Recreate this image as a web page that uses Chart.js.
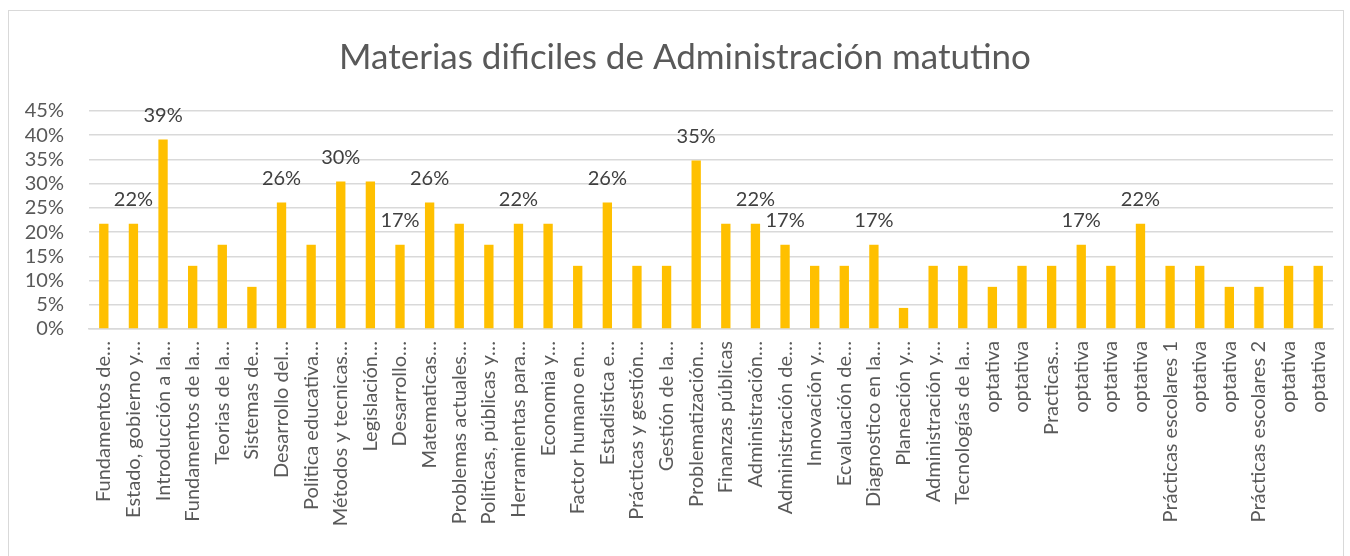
<!DOCTYPE html>
<html>
<head>
<meta charset="utf-8">
<script src="https://cdn.jsdelivr.net/npm/chart.js@4"></script>
<style>
  body { margin: 0; background: #fff; }
  #box { position: absolute; left: 8px; top: 10px; width: 1334px; height: 560px; border: 1px solid #d9d9d9; }
</style>
</head>
<body>
<div id="box"><canvas id="chart" width="1334" height="560"></canvas></div>
<script>
// materias (etiquetas tal como aparecen en el eje)
const materias = [
  "Fundamentos de…", "Estado, gobierno y…", "Introducción a la…", "Fundamentos de la…",
  "Teorias de la…", "Sistemas de…", "Desarrollo del…", "Politica educativa…",
  "Métodos y tecnicas…", "Legislación…", "Desarrollo…", "Matematicas…",
  "Problemas actuales…", "Politicas, públicas y…", "Herramientas para…", "Economia y…",
  "Factor humano en…", "Estadistica e…", "Prácticas y gestión…", "Gestión de la…",
  "Problematización…", "Finanzas públicas", "Administración…", "Administración de…",
  "Innovación y…", "Ecvaluación de…", "Diagnostico en la…", "Planeación y…",
  "Administración y…", "Tecnologías de la…", "optativa", "optativa",
  "Practicas…", "optativa", "optativa", "optativa",
  "Prácticas escolares 1", "optativa", "optativa", "Prácticas escolares 2",
  "optativa", "optativa"
];

// porcentaje de alumnos
const porcentajes = [
  21.74, 21.74, 39.13, 13.04, 17.39, 8.70, 26.09, 17.39,
  30.43, 30.43, 17.39, 26.09, 21.74, 17.39, 21.74, 21.74,
  13.04, 26.09, 13.04, 13.04, 34.78, 21.74, 21.74, 17.39,
  13.04, 13.04, 17.39, 4.35, 13.04, 13.04, 8.70, 13.04,
  13.04, 17.39, 13.04, 21.74, 13.04, 13.04, 8.70, 8.70,
  13.04, 13.04
];

// barras que llevan etiqueta de dato
const conEtiqueta = [2, 3, 7, 9, 11, 12, 15, 18, 21, 23, 24, 27, 34, 36];

const yTicks = [0, 5, 10, 15, 20, 25, 30, 35, 40, 45];

const titulo = "Materias dificiles de Administración matutino";

const fuente = "Lato, 'Open Sans', sans-serif";
const gris = "#595959";

const etiquetas = {
  id: "etiquetas",
  afterDatasetsDraw(chart) {
    const ctx = chart.ctx;
    const meta = chart.getDatasetMeta(0);
    ctx.save();
    ctx.font = "20px " + fuente;
    ctx.fillStyle = "#404040";
    ctx.textAlign = "center";
    ctx.textBaseline = "middle";
    conEtiqueta.forEach(n => {
      const bar = meta.data[n - 1];
      ctx.fillText(Math.round(porcentajes[n - 1]) + "%", bar.x, bar.y - 24);
    });
    // titulo, centrado como en Excel (un poco a la derecha)
    ctx.font = "35px " + fuente;
    ctx.fillStyle = gris;
    ctx.fillText(titulo, 676, 47);
    ctx.restore();
  }
};

new Chart("chart", {
  type: "bar",
  data: {
    labels: materias,
    datasets: [{
      data: porcentajes,
      backgroundColor: "#FFC000",
      barPercentage: 0.63,
      categoryPercentage: 0.5
    }]
  },
  options: {
    responsive: false,
    animation: false,
    layout: { padding: { left: 0, right: 10, top: 100, bottom: 0 } },
    plugins: {
      legend: { display: false },
      tooltip: { enabled: false },
      title: { display: false }
    },
    scales: {
      x: {
        grid: { display: false },
        border: { color: "#d9d9d9", width: 1.5 },
        ticks: {
          color: gris,
          font: { family: fuente, size: 20 },
          minRotation: 90,
          maxRotation: 90,
          autoSkip: false,
          padding: 4
        },
        afterFit(scale) {
          scale.height = 560 - 318;
          scale.paddingLeft = 0;
          scale.paddingRight = 0;
        }
      },
      y: {
        min: 0,
        max: 45,
        afterBuildTicks(scale) { scale.ticks = yTicks.map(v => ({ value: v })); },
        grid: { color: "#d9d9d9", lineWidth: 1.5, drawTicks: false },
        border: { display: false },
        ticks: {
          color: gris,
          font: { family: fuente, size: 20 },
          padding: 25,
          autoSkip: false,
          callback: v => v + "%"
        },
        afterFit(scale) {
          scale.width = 80;
          scale.paddingTop = 0;
          scale.paddingBottom = 0;
        }
      }
    }
  },
  plugins: [etiquetas]
});
</script>
</body>
</html>
